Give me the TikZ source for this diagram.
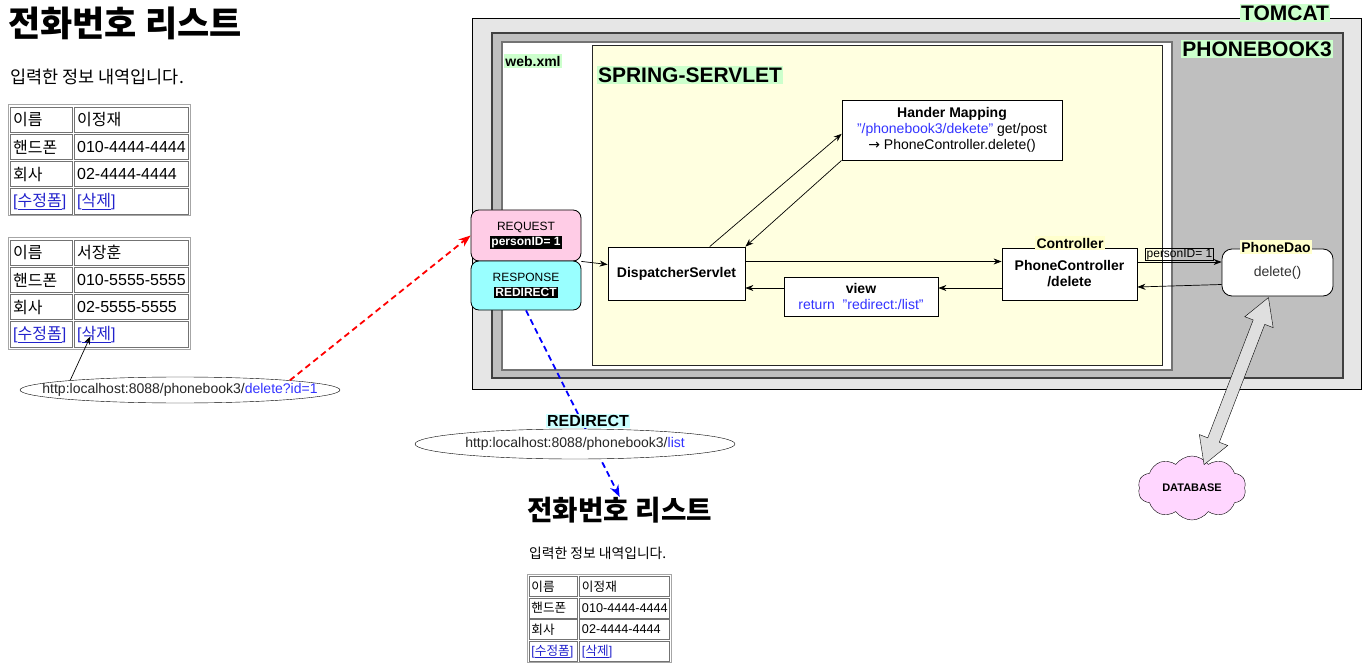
\documentclass[tikz,border=0pt]{standalone}
\usepackage{fontspec}
\setmainfont{Liberation Sans}
\newfontfamily\kr{Noto Sans CJK KR}
\newfontfamily\sym{DejaVu Sans}
\usetikzlibrary{calc,arrows.meta,shapes.geometric,shapes.symbols,shapes.arrows}
\setlength{\fboxsep}{1pt}

\definecolor{tomcatgray}{RGB}{230,230,230}
\definecolor{appgray}{RGB}{191,191,191}
\definecolor{springyellow}{RGB}{255,255,224}
\definecolor{tagGreen}{RGB}{204,255,204}
\definecolor{tagYellow}{RGB}{255,255,204}
\definecolor{reqpink}{RGB}{255,204,230}
\definecolor{respcyan}{RGB}{153,255,255}
\definecolor{redircyan}{RGB}{204,255,255}
\definecolor{dbpink}{RGB}{255,214,255}
\definecolor{urlblue}{RGB}{51,51,255}
\definecolor{linkblue}{RGB}{34,34,204}

\tikzset{
	box/.style={draw, fill=white, line width=0.8pt, align=center, inner sep=2pt, font=\fontsize{14}{16}\selectfont},
	tag/.style={inner sep=1.5pt, font=\bfseries\fontsize{21}{24}\selectfont},
	smalltag/.style={inner sep=1.5pt, font=\bfseries\fontsize{14}{16}\selectfont},
	call/.style={-{Stealth[length=8pt,width=6pt]}, line width=0.7pt},
	jump/.style={dash pattern=on 6pt off 4pt, line width=1.8pt, -{Stealth[length=12pt,width=9pt]}},
	urlbox/.style={draw, ellipse, fill=white, inner xsep=-30pt, inner ysep=1pt, text=black!85, font=\fontsize{14}{16}\selectfont},
	cellfont/.style={anchor=west, inner sep=0pt, font=\fontsize{16}{18}\selectfont},
	dbarrow/.style={double arrow, draw, fill=gray!25, minimum height=179pt, inner sep=6pt, double arrow head extend=9pt, double arrow tip angle=60}
}

% one html table of the phone list
\newcommand{\phonetable}[4]{%
	\draw[gray!70, line width=1pt] (0,0) rectangle (182,111);
	\foreach \row in {0,1,2,3}{
		\draw[black!55, line width=0.8pt] (2,{2+27.25*\row}) rectangle (64,{27.25+27.25*\row});
		\draw[black!55, line width=0.8pt] (66,{2+27.25*\row}) rectangle (180,{27.25+27.25*\row});
	}
	\node[cellfont] (#1-k1) at (5,14.6) {\kr 이름};
	\node[cellfont] (#1-v1) at (69,14.6) {\kr #2};
	\node[cellfont] (#1-k2) at (5,41.9) {\kr 핸드폰};
	\node[cellfont] (#1-v2) at (69,41.9) {#3};
	\node[cellfont] (#1-k3) at (5,69.1) {\kr 회사};
	\node[cellfont] (#1-v3) at (69,69.1) {#4};
	\node[cellfont, text=linkblue] (#1-edit) at (5,96.4) {[\underline{\kr 수정폼}]};
	\node[cellfont, text=linkblue] (#1-del) at (69,96.4) {[\underline{\kr 삭제}]};
}

% list page: title, note and the first table
\newcommand{\listpage}[1]{%
	\node[anchor=west, inner sep=0pt, font=\kr\bfseries\fontsize{35}{38}\selectfont] (#1-title) at (8,23) {전화번호 리스트};
	\node[anchor=west, inner sep=0pt, font=\kr\fontsize{17.5}{20}\selectfont] (#1-note) at (10,77) {입력한 정보 내역입니다.};
	\begin{scope}[shift={(8,105)}]
		\phonetable{#1}{이정재}{010-4444-4444}{02-4444-4444}
	\end{scope}
}

\begin{document}
\begin{tikzpicture}[x=1pt, y=-1pt]
		\useasboundingbox (0,0) rectangle (1363,671);
		
		%%%%% PAGES %%%%%
		\listpage{p1}
		\begin{scope}[shift={(8,238)}]
			\phonetable{p1b}{서장훈}{010-5555-5555}{02-5555-5555}
		\end{scope}
		\begin{scope}[shift={(521,492)}, scale=0.79, transform shape]
			\listpage{p2}
		\end{scope}
		
		%%%%% CONTAINERS %%%%%
		\draw[fill=tomcatgray, line width=1pt] (472,19) rectangle (1361,389);
		\draw[fill=appgray, draw=black!75, line width=1.5pt] (492,33) rectangle (1343,378);
		\draw[fill=white, draw=black!55, line width=2pt] (502,42) rectangle (1172,370);
		\draw[fill=springyellow, draw=black!85, line width=1pt] (592,46) rectangle (1162,365);
		\node[tag, fill=tagGreen] (tomcat) at (1285,13) {TOMCAT};
		\node[tag, fill=tagGreen] (app) at (1257,49) {PHONEBOOK3};
		\node[smalltag, fill=tagGreen] (webxml) at (533,61) {web.xml};
		\node[tag, fill=tagGreen] (spring) at (690,75) {SPRING-SERVLET};
		
		%%%%% BOXES %%%%%
		\node[box, minimum width=220pt, minimum height=60pt] (hm) at (952,130) {\textbf{Hander Mapping}\\{\color{urlblue}"/phonebook3/dekete"} get/post\\{\sym →} PhoneController.delete()};
		\node[box, font=\bfseries\fontsize{14}{16}\selectfont, minimum width=137pt, minimum height=53pt] (ds) at (676.5,273.5) {DispatcherServlet};
		\node[box, font=\bfseries\fontsize{14}{16}\selectfont, minimum width=135pt, minimum height=52pt] (ctrl) at (1069.5,274) {PhoneController\\/delete};
		\node[smalltag, fill=tagYellow] (ctrltag) at (1070,243) {Controller};
		\node[box, minimum width=154pt, minimum height=39pt] (view) at (861,296.5) {\textbf{view}\\{\color{urlblue}return\ \ "redirect:/list"}};
		\node[box, rounded corners=10pt, minimum width=111pt, minimum height=47pt, text=black!80] (dao) at (1277.5,272.5) {delete()};
		\node[smalltag, fill=tagYellow] (daotag) at (1276,247) {PhoneDao};
		\node[box, rounded corners=8pt, fill=reqpink, minimum width=110pt, minimum height=51pt, font=\fontsize{12}{15}\selectfont] (req) at (526,235.5) {REQUEST\\\colorbox{black}{\textcolor{white}{\bfseries personID= 1}}};
		\node[box, rounded corners=8pt, fill=respcyan, minimum width=110pt, minimum height=49pt, font=\fontsize{12}{15}\selectfont] (resp) at (526,285.5) {RESPONSE\\\colorbox{black}{\textcolor{white}{\bfseries REDIRECT}}};
		\node[cloud, draw, fill=dbpink, cloud puffs=10, cloud puff arc=110, aspect=1.6, minimum width=108pt, minimum height=64pt, inner sep=0pt, font=\bfseries\fontsize{11}{13}\selectfont] (db) at (1192,488) {DATABASE};
		
		%%%%% CALLS %%%%%
		\draw[call] (ds.39) -- (hm.182);
		\draw[call] (hm.south west) -- (ds.north east);
		\draw[call] ($(ds.east)+(0,-12)$) coordinate (dsout) -- (dsout -| ctrl.west);
		\draw[call] ($(ctrl.west)+(0,14)$) coordinate (ctrlback) -- (ctrlback -| view.east);
		\draw[call] (view.west |- ctrlback) -- (ctrlback -| ds.east);
		\draw[call] ($(ctrl.east)+(0,-12)$) coordinate (ctrlout) -- (ctrlout -| dao.west) node[midway, above=1pt, draw, inner sep=1pt, font=\fontsize{12}{14}\selectfont] (pid) {personID= 1};
		\draw[call] ($(dao.west)+(0,12)$) -- ($(ctrl.east)+(0,13)$);
		\draw[call] (req.south east) -- ($(ds.west)+(0,-9)$);
		
		\coordinate (daotip) at ($(dao.south)+(-9,1)$);
		\coordinate (dbtip) at ($(db.north)+(12,9)$);
		\path (dbtip) -- (daotip) node[midway, sloped, dbarrow] (dblink) {};
		
		%%%%% URLS %%%%%
		\draw[jump, blue] (resp.south) -- (p2-title.north);
		\node[urlbox, minimum width=320pt, minimum height=26pt] (url1) at (180,390) {http:localhost:8088/phonebook3/{\color{urlblue}delete?id=1}};
		\node[urlbox, minimum width=320pt, minimum height=30pt] (url2) at (575,444) {http:localhost:8088/phonebook3/{\color{urlblue}list}};
		\node[inner sep=1.5pt, fill=redircyan, font=\bfseries\fontsize{16}{18}\selectfont] (redir) at (588,421) {REDIRECT};
		\draw[call] (url1.175) -- ($(p1b-del.center)+(-6,2)$);
		\draw[jump, red] (url1.5) -- (req.west);
		
\end{tikzpicture}
\end{document}
